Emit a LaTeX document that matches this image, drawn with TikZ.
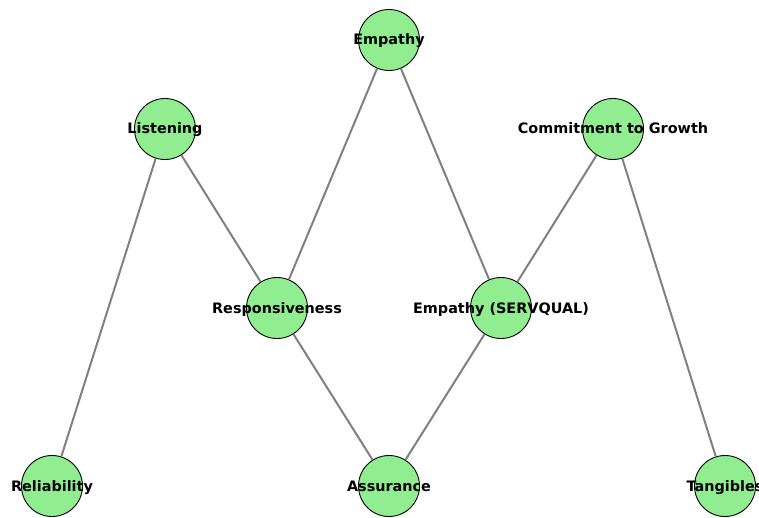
\documentclass[tikz,border=0pt]{standalone}
\usepackage{fontspec}
\setmainfont{DejaVu Sans}
\tikzset{
  vtx/.style={circle, draw=black, line width=0.9pt, fill={rgb,255:red,144;green,238;blue,144}, minimum size=61pt, inner sep=0pt},
  lbl/.style={font=\fontsize{14.4}{17}\selectfont\bfseries, text=black, inner sep=0pt, anchor=base, yshift=-5pt},
  edge/.style={draw={rgb,255:red,128;green,128;blue,128}, line width=2pt}
}
\begin{document}
\begin{tikzpicture}[x=1pt,y=1pt]
\useasboundingbox (0,0) rectangle (759,517);
\node[vtx] (emp) at (389,477) {};
\node[vtx] (lis) at (165,388) {};
\node[vtx] (com) at (613,388) {};
\node[vtx] (res) at (277,209) {};
\node[vtx] (ems) at (501,209) {};
\node[vtx] (rel) at (52,31) {};
\node[vtx] (ass) at (389,31) {};
\node[vtx] (tan) at (725,31) {};
\draw[edge] (lis) -- (rel);
\draw[edge] (lis) -- (res);
\draw[edge] (emp) -- (res);
\draw[edge] (emp) -- (ems);
\draw[edge] (com) -- (ems);
\draw[edge] (com) -- (tan);
\draw[edge] (res) -- (ass);
\draw[edge] (ems) -- (ass);
\node[lbl] (temp) at (emp) {Empathy};
\node[lbl] (tlis) at (lis) {Listening};
\node[lbl] (tcom) at (com) {Commitment to Growth};
\node[lbl] (tres) at (res) {Responsiveness};
\node[lbl] (tems) at (ems) {Empathy (SERVQUAL)};
\node[lbl] (trel) at (rel) {Reliability};
\node[lbl] (tass) at (ass) {Assurance};
\node[lbl] (ttan) at (tan) {Tangibles};
\end{tikzpicture}
\end{document}
